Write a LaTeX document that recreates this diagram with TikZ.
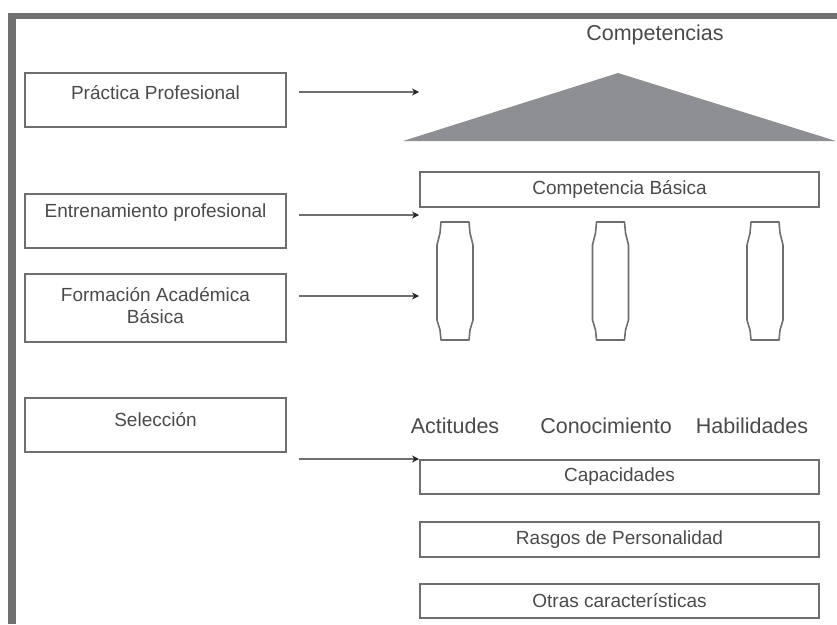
\documentclass[tikz,border=0pt]{standalone}
\usepackage{fontspec}
\setmainfont{Liberation Sans}
\usetikzlibrary{arrows.meta}
\definecolor{frame}{HTML}{707070}
\definecolor{edge}{HTML}{6E6E6E}
\definecolor{roof}{HTML}{8E8F93}
\definecolor{ink}{HTML}{4A4A4A}
\tikzset{
  lbox/.style={draw=edge, line width=2pt, minimum width=261pt, inner sep=0pt},
  rbox/.style={draw=edge, line width=2pt, minimum width=399pt, minimum height=34pt, inner sep=0pt,
    font=\fontsize{19}{22}\selectfont, text=ink},
  txt/.style={font=\fontsize{19}{22}\selectfont, text=ink, inner sep=0pt, align=center},
  big/.style={font=\fontsize{21.5}{24}\selectfont, text=ink, inner sep=0pt},
  arr/.style={draw=edge, line width=2pt, -{Stealth[length=7pt,width=7pt,color=black!85]}},
  pillar/.style={draw=edge, line width=1.6pt, line join=round}
}
\begin{document}
\begin{tikzpicture}[x=1pt,y=-1pt]
\useasboundingbox (0,0) rectangle (837,624);
% frame
\fill[frame] (8,13) rectangle (837,19);
\fill[frame] (8,13) rectangle (16,624);
% left boxes
\node[lbox, minimum height=54pt] (pp) at (155.5,100) {};
\node[txt] (ppt) at (155.5,93) {Práctica Profesional};
\node[lbox, minimum height=54pt] (ep) at (155.5,221) {};
\node[txt] (ept) at (155.5,213) {Entrenamiento profesional};
\node[lbox, minimum height=68pt] (fa) at (155.5,308) {};
\node[txt] (fat) at (155.5,305.5) {Formación Académica\\Básica};
\node[lbox, minimum height=54pt] (se) at (155.5,425) {};
\node[txt] (set) at (155.5,420) {Selección};
% roof
\node[big] (comp) at (655,35) {Competencias};
\fill[roof] (618,73) -- (836,141) -- (403,141) -- cycle;
% right boxes
\node[rbox, minimum height=35pt] (cb) at (619.5,189.5) {Competencia Básica};
\node[rbox] (cap) at (619.5,477) {Capacidades};
\node[rbox, minimum height=35pt] (ras) at (619.5,539.5) {Rasgos de Personalidad};
\node[rbox] (otr) at (619.5,601) {Otras características};
% pillars
\foreach \cx in {455,610.5,765}{
  \draw[pillar] (\cx-14,222) -- (\cx+14,222) -- (\cx+15,233) -- (\cx+18,245) -- (\cx+18,320)
    -- (\cx+15,330) -- (\cx+14,340) -- (\cx-14,340) -- (\cx-15,330) -- (\cx-18,320)
    -- (\cx-18,245) -- (\cx-15,233) -- cycle;
}
\node[big] (act) at (455,426) {Actitudes};
\node[big] (con) at (606,426) {Conocimiento};
\node[big] (hab) at (752,426) {Habilidades};
% arrows
\coordinate (s1) at (299,92);  \coordinate (e1) at (419,92);
\coordinate (s2) at (299,215); \coordinate (e2) at (419,215);
\coordinate (s3) at (299,296); \coordinate (e3) at (419,296);
\coordinate (s4) at (299,459);
\draw[arr] (s1) -- (e1);
\draw[arr] (s2) -- (e2);
\draw[arr] (s3) -- (e3);
\draw[arr] (s4) -- (cap.north west);
\end{tikzpicture}
\end{document}
